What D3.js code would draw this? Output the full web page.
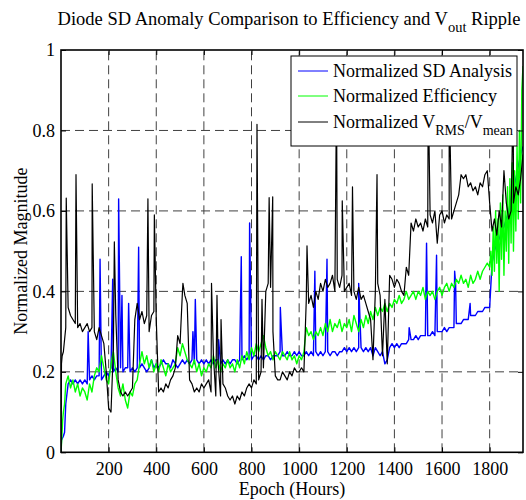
<!DOCTYPE html>
<html><head><meta charset="utf-8">
<script src="https://cdn.jsdelivr.net/npm/d3@7"></script>
<style>body{margin:0;background:#fff} text{font-family:"Liberation Serif","Times New Roman",serif;fill:#000}</style>
</head><body>
<svg id="c" width="526" height="500"></svg>
<script>
// ---- data ----
const epochs = d3.range(0, 1941, 10);
const xTicks = [200, 400, 600, 800, 1000, 1200, 1400, 1600, 1800];
const yTicks = [0, 0.2, 0.4, 0.6, 0.8, 1];

const sdValues = [
0.00,0.04,0.12,0.17,0.18,0.17,0.18,0.17,0.18,0.17,
0.18,0.17,0.18,0.19,0.18,0.19,0.19,0.18,0.19,0.20,
0.19,0.21,0.20,0.21,0.20,0.21,0.20,0.21,0.21,0.20,
0.21,0.20,0.21,0.21,0.22,0.21,0.20,0.21,0.23,0.21,
0.22,0.21,0.22,0.23,0.22,0.22,0.21,0.23,0.22,0.21,
0.22,0.23,0.22,0.23,0.22,0.23,0.22,0.23,0.22,0.23,
0.22,0.23,0.22,0.23,0.22,0.23,0.23,0.22,0.23,0.22,
0.23,0.22,0.23,0.23,0.22,0.23,0.23,0.24,0.23,0.24,
0.23,0.24,0.24,0.23,0.24,0.23,0.24,0.24,0.23,0.24,
0.24,0.24,0.25,0.24,0.24,0.25,0.24,0.24,0.25,0.24,
0.25,0.24,0.24,0.25,0.24,0.25,0.24,0.25,0.24,0.25,
0.24,0.25,0.25,0.24,0.25,0.25,0.24,0.25,0.25,0.26,
0.25,0.26,0.25,0.26,0.25,0.26,0.26,0.25,0.26,0.25,
0.26,0.24,0.26,0.25,0.24,0.25,0.22,0.23,0.26,0.27,
0.26,0.27,0.26,0.27,0.27,0.27,0.28,0.28,0.28,0.29,
0.28,0.29,0.29,0.29,0.29,0.29,0.30,0.29,0.30,0.30,
0.30,0.31,0.30,0.31,0.31,0.31,0.32,0.32,0.32,0.33,
0.33,0.33,0.34,0.34,0.34,0.35,0.35,0.35,0.36,0.36,
0.36,0.47,0.50,0.52,0.53,0.55,0.56,0.58,0.60,0.63,
0.65,0.68,0.71,0.74,0.76];
const sdExtra = [[2,0.03],[15,0.05],[114,0.30],[164,0.48],[217,0.43],[242,0.63],[256,0.39],[284,0.37],
[326,0.51],[554,0.30],[564,0.38],[662,0.28],[757,0.486],[792,0.57],[921,0.36],[1066,0.45],[1117,0.48],
[1250,0.42],[1462,0.31],[1535,0.52],[1577,0.49],[1653,0.45],[1657,0.42],[1718,0.37]];

const effValues = [
0.00,0.10,0.17,0.19,0.16,0.18,0.15,0.17,0.14,0.16,
0.15,0.13,0.17,0.15,0.19,0.21,0.20,0.24,0.21,0.18,
0.17,0.22,0.25,0.20,0.16,0.14,0.17,0.13,0.11,0.15,
0.14,0.17,0.18,0.22,0.25,0.22,0.24,0.21,0.23,0.20,
0.22,0.20,0.23,0.21,0.19,0.22,0.20,0.21,0.22,0.26,
0.24,0.27,0.25,0.23,0.22,0.21,0.23,0.20,0.22,0.19,
0.21,0.20,0.22,0.21,0.24,0.21,0.23,0.20,0.22,0.21,
0.23,0.21,0.22,0.20,0.23,0.21,0.24,0.22,0.25,0.23,
0.26,0.24,0.27,0.25,0.27,0.29,0.26,0.24,0.25,0.23,
0.25,0.24,0.23,0.25,0.24,0.23,0.25,0.23,0.24,0.22,
0.24,0.23,0.25,0.31,0.29,0.30,0.28,0.30,0.29,0.31,
0.29,0.32,0.30,0.33,0.30,0.32,0.31,0.33,0.30,0.32,
0.31,0.33,0.30,0.34,0.32,0.30,0.33,0.31,0.34,0.32,
0.35,0.33,0.36,0.34,0.36,0.35,0.37,0.35,0.37,0.36,
0.38,0.37,0.39,0.37,0.38,0.40,0.38,0.39,0.40,0.38,
0.40,0.39,0.41,0.38,0.40,0.39,0.40,0.38,0.40,0.41,
0.39,0.41,0.42,0.40,0.42,0.41,0.43,0.42,0.44,0.42,
0.43,0.41,0.44,0.42,0.43,0.45,0.43,0.45,0.46,0.47,
0.46,0.44,0.45,0.47,0.40,0.48,0.44,0.50,0.47,0.52,
0.50,0.55,0.58,0.62,0.96];
const effExtra = [[3,0.03],[7,0.08],[15,0.12],[1805,0.50],[1815,0.56],[1825,0.60],[1835,0.58],[1845,0.62],
[1855,0.64],[1865,0.60],[1875,0.66],[1885,0.68],[1895,0.72],[1905,0.70],[1915,0.76],[1925,0.80],[1935,0.90]];

const ripValues = [
0.00,0.25,0.31,0.36,0.34,0.33,0.32,0.31,0.32,0.30,
0.31,0.32,0.30,0.31,0.30,0.28,0.31,0.29,0.27,0.20,
0.11,0.10,0.26,0.34,0.18,0.15,0.14,0.15,0.14,0.15,
0.16,0.33,0.37,0.33,0.35,0.32,0.34,0.30,0.34,0.35,
0.33,0.15,0.16,0.15,0.17,0.16,0.18,0.19,0.21,0.29,
0.27,0.40,0.39,0.37,0.18,0.17,0.15,0.16,0.15,0.17,
0.16,0.17,0.18,0.15,0.24,0.14,0.22,0.14,0.17,0.16,
0.14,0.13,0.14,0.12,0.14,0.13,0.15,0.14,0.16,0.17,
0.16,0.18,0.17,0.18,0.20,0.21,0.40,0.42,0.41,0.30,
0.19,0.18,0.18,0.20,0.19,0.18,0.20,0.19,0.21,0.20,
0.20,0.21,0.20,0.38,0.37,0.39,0.36,0.40,0.38,0.42,
0.40,0.43,0.41,0.42,0.44,0.40,0.43,0.41,0.44,0.40,
0.41,0.42,0.39,0.40,0.38,0.41,0.38,0.39,0.37,0.35,
0.33,0.23,0.40,0.42,0.39,0.24,0.38,0.22,0.44,0.43,
0.41,0.43,0.42,0.40,0.39,0.46,0.44,0.57,0.55,0.58,
0.56,0.57,0.55,0.58,0.56,0.59,0.57,0.60,0.52,0.59,
0.60,0.57,0.59,0.58,0.58,0.60,0.62,0.64,0.69,0.68,
0.69,0.66,0.67,0.65,0.66,0.64,0.67,0.66,0.69,0.70,
0.62,0.55,0.58,0.54,0.60,0.56,0.70,0.62,0.58,0.60,
0.62,0.66,0.64,0.68,0.74];
const ripExtra = [[2,0.22],[5,0.24],[22,0.632],[63,0.69],[131,0.667],[224,0.523],[365,0.63],[392,0.59],
[512,0.42],[632,0.42],[655,0.39],[672,0.33],[823,0.815],[844,0.38],[874,0.633],[889,0.635],[1033,0.513],
[1157,0.9],[1181,0.625],[1224,0.66],[1327,0.69],[1542,0.9],[1630,0.9],[1899,0.9]];

const seriesNames = ["Normalized SD Analysis", "Normalized Efficiency", "Normalized V_RMS/V_mean"];
const seriesColors = ["#0000ff", "#00ff00", "#000000"];
const seriesWidths = [1.4, 1.4, 1.2];

// ---- build ----
function merge(vals, extra) {
  const pts = epochs.map((e, i) => [e, vals[i]]).concat(extra);
  return pts.sort((a, b) => a[0] - b[0]);
}
const series = [merge(sdValues, sdExtra), merge(effValues, effExtra), merge(ripValues, ripExtra)];

const svg = d3.select("#c");
const L = 61, R = 523, T = 50, B = 452.3;
const x = d3.scaleLinear().domain([0, 1940]).range([L, R]);
const y = d3.scaleLinear().domain([0, 1]).range([B, T]);

// grid
const grid = svg.append("g").attr("stroke", "#404040").attr("stroke-width", 1).attr("stroke-dasharray", "9,5");
grid.selectAll(".gx").data(xTicks).join("line").attr("x1", d => x(d)).attr("x2", d => x(d)).attr("y1", B).attr("y2", T);
grid.selectAll(".gy").data(yTicks.slice(1, -1)).join("line").attr("x1", L).attr("x2", R).attr("y1", d => y(d)).attr("y2", d => y(d));

svg.append("defs").append("clipPath").attr("id", "clip").append("rect")
  .attr("x", L).attr("y", T).attr("width", R - L).attr("height", B - T);

const line = d3.line().x(d => x(d[0])).y(d => y(d[1]));
const plot = svg.append("g").attr("clip-path", "url(#clip)");
series.forEach((s, i) => {
  plot.append("path").datum(s).attr("d", line).attr("fill", "none")
    .attr("stroke", seriesColors[i]).attr("stroke-width", seriesWidths[i]).attr("stroke-linejoin", "round");
});

// axes
const ax = svg.append("g").attr("transform", `translate(0,${B})`)
  .call(d3.axisBottom(x).tickValues(xTicks).tickSize(-5).tickPadding(10).tickFormat(d3.format("d")));
const ay = svg.append("g").attr("transform", `translate(${L},0)`)
  .call(d3.axisLeft(y).tickValues(yTicks).tickSize(-5).tickPadding(6).tickFormat(d => d === 0 || d === 1 ? d3.format("d")(d) : d3.format(".1f")(d)));
const axT = svg.append("g").attr("transform", `translate(0,${T})`)
  .call(d3.axisTop(x).tickValues(xTicks).tickSize(-5).tickFormat(""));
const axR = svg.append("g").attr("transform", `translate(${R},0)`)
  .call(d3.axisRight(y).tickValues(yTicks).tickSize(-5).tickFormat(""));
[ax, ay, axT, axR].forEach(g => {
  g.select(".domain").remove();
  g.selectAll("line").attr("stroke", "#000");
  g.selectAll("text").style("font-family", '"Liberation Serif","Times New Roman",serif').style("font-size", "18px").attr("fill", "#000");
});
svg.append("rect").attr("x", L).attr("y", T).attr("width", R - L).attr("height", B - T)
  .attr("fill", "none").attr("stroke", "#000").attr("stroke-width", 1.6);

// legend
const lg = svg.append("g");
lg.append("rect").attr("x", 291).attr("y", 56).attr("width", 226).attr("height", 90)
  .attr("fill", "#fff").attr("stroke", "#000").attr("stroke-width", 1);
const ly = [71, 96, 122];
seriesNames.forEach((n, i) => {
  lg.append("line").attr("x1", 298).attr("x2", 328).attr("y1", ly[i]).attr("y2", ly[i])
    .attr("stroke", seriesColors[i]).attr("stroke-width", 1);
  const t = lg.append("text").attr("x", 333).attr("y", ly[i] + 6).style("font-size", "18px");
  if (i < 2) t.text(n);
  else {
    t.append("tspan").text("Normalized V");
    t.append("tspan").attr("dy", 7).style("font-size", "14px").text("RMS");
    t.append("tspan").attr("dy", -7).text("/V");
    t.append("tspan").attr("dy", 7).style("font-size", "14px").text("mean");
  }
});

// title & labels
const title = svg.append("text").attr("x", 289).attr("y", 25).attr("text-anchor", "middle").style("font-size", "18.5px");
title.append("tspan").text("Diode SD Anomaly Comparison to Efficiency and V");
title.append("tspan").attr("dy", 7).style("font-size", "14.5px").text("out");
title.append("tspan").attr("dy", -7).text(" Ripple");

svg.append("text").attr("x", 292).attr("y", 495).attr("text-anchor", "middle").style("font-size", "18px").text("Epoch (Hours)");
svg.append("text").attr("transform", `translate(27,${(T + B) / 2}) rotate(-90)`).attr("text-anchor", "middle")
  .style("font-size", "18px").text("Normalized Magnitude");
</script>
</body></html>
